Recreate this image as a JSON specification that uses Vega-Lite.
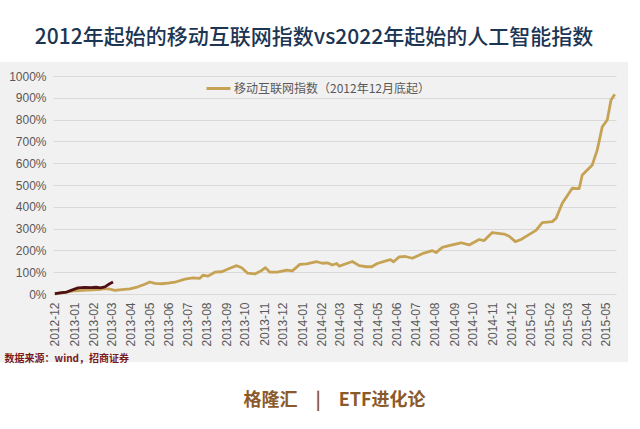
{
  "$schema": "https://vega.github.io/schema/vega-lite/v6.json",
  "autosize": {"type": "none"},
  "width": 628,
  "height": 300,
  "padding": {"left": 0, "top": 62, "right": 12, "bottom": 67},
  "background": "#ffffff",
  "view": {"fill": "#f2f1f1", "stroke": null},
  "title": {
    "text": "2012年起始的移动互联网指数vs2022年起始的人工智能指数",
    "font": "Noto Sans CJK SC",
    "fontSize": 21,
    "fontWeight": 500,
    "color": "#1c3553",
    "anchor": "middle",
    "frame": "group",
    "offset": 14
  },
  "data": {"values": [
    {"s": "移动互联网指数（2012年12月底起）", "d": "2012-12-01", "v": 0},
    {"s": "移动互联网指数（2012年12月底起）", "d": "2012-12-17", "v": 8},
    {"s": "移动互联网指数（2012年12月底起）", "d": "2013-01-02", "v": 15},
    {"s": "移动互联网指数（2012年12月底起）", "d": "2013-01-21", "v": 18},
    {"s": "移动互联网指数（2012年12月底起）", "d": "2013-02-08", "v": 20},
    {"s": "移动互联网指数（2012年12月底起）", "d": "2013-02-19", "v": 25},
    {"s": "移动互联网指数（2012年12月底起）", "d": "2013-02-27", "v": 22},
    {"s": "移动互联网指数（2012年12月底起）", "d": "2013-03-07", "v": 17},
    {"s": "移动互联网指数（2012年12月底起）", "d": "2013-03-18", "v": 20},
    {"s": "移动互联网指数（2012年12月底起）", "d": "2013-03-31", "v": 24},
    {"s": "移动互联网指数（2012年12月底起）", "d": "2013-04-13", "v": 33},
    {"s": "移动互联网指数（2012年12月底起）", "d": "2013-04-24", "v": 45},
    {"s": "移动互联网指数（2012年12月底起）", "d": "2013-05-02", "v": 55},
    {"s": "移动互联网指数（2012年12月底起）", "d": "2013-05-10", "v": 49},
    {"s": "移动互联网指数（2012年12月底起）", "d": "2013-05-21", "v": 47},
    {"s": "移动互联网指数（2012年12月底起）", "d": "2013-05-31", "v": 50},
    {"s": "移动互联网指数（2012年12月底起）", "d": "2013-06-11", "v": 54},
    {"s": "移动互联网指数（2012年12月底起）", "d": "2013-06-27", "v": 68},
    {"s": "移动互联网指数（2012年12月底起）", "d": "2013-07-10", "v": 74},
    {"s": "移动互联网指数（2012年12月底起）", "d": "2013-07-21", "v": 72},
    {"s": "移动互联网指数（2012年12月底起）", "d": "2013-07-26", "v": 86},
    {"s": "移动互联网指数（2012年12月底起）", "d": "2013-08-03", "v": 82},
    {"s": "移动互联网指数（2012年12月底起）", "d": "2013-08-14", "v": 100},
    {"s": "移动互联网指数（2012年12月底起）", "d": "2013-08-25", "v": 102},
    {"s": "移动互联网指数（2012年12月底起）", "d": "2013-09-07", "v": 118},
    {"s": "移动互联网指数（2012年12月底起）", "d": "2013-09-18", "v": 130},
    {"s": "移动互联网指数（2012年12月底起）", "d": "2013-09-26", "v": 120},
    {"s": "移动互联网指数（2012年12月底起）", "d": "2013-10-05", "v": 96},
    {"s": "移动互联网指数（2012年12月底起）", "d": "2013-10-17", "v": 92},
    {"s": "移动互联网指数（2012年12月底起）", "d": "2013-10-28", "v": 108},
    {"s": "移动互联网指数（2012年12月底起）", "d": "2013-11-03", "v": 121},
    {"s": "移动互联网指数（2012年12月底起）", "d": "2013-11-10", "v": 100},
    {"s": "移动互联网指数（2012年12月底起）", "d": "2013-11-22", "v": 100},
    {"s": "移动互联网指数（2012年12月底起）", "d": "2013-12-07", "v": 110},
    {"s": "移动互联网指数（2012年12月底起）", "d": "2013-12-16", "v": 106},
    {"s": "移动互联网指数（2012年12月底起）", "d": "2013-12-28", "v": 136},
    {"s": "移动互联网指数（2012年12月底起）", "d": "2014-01-08", "v": 138},
    {"s": "移动互联网指数（2012年12月底起）", "d": "2014-01-24", "v": 148},
    {"s": "移动互联网指数（2012年12月底起）", "d": "2014-02-02", "v": 141},
    {"s": "移动互联网指数（2012年12月底起）", "d": "2014-02-10", "v": 143},
    {"s": "移动互联网指数（2012年12月底起）", "d": "2014-02-18", "v": 133},
    {"s": "移动互联网指数（2012年12月底起）", "d": "2014-02-25", "v": 140},
    {"s": "移动互联网指数（2012年12月底起）", "d": "2014-03-01", "v": 128},
    {"s": "移动互联网指数（2012年12月底起）", "d": "2014-03-13", "v": 140},
    {"s": "移动互联网指数（2012年12月底起）", "d": "2014-03-22", "v": 149},
    {"s": "移动互联网指数（2012年12月底起）", "d": "2014-04-02", "v": 130},
    {"s": "移动互联网指数（2012年12月底起）", "d": "2014-04-14", "v": 125},
    {"s": "移动互联网指数（2012年12月底起）", "d": "2014-04-22", "v": 125},
    {"s": "移动互联网指数（2012年12月底起）", "d": "2014-05-01", "v": 140},
    {"s": "移动互联网指数（2012年12月底起）", "d": "2014-05-16", "v": 153},
    {"s": "移动互联网指数（2012年12月底起）", "d": "2014-05-22", "v": 158},
    {"s": "移动互联网指数（2012年12月底起）", "d": "2014-05-27", "v": 148},
    {"s": "移动互联网指数（2012年12月底起）", "d": "2014-06-05", "v": 170},
    {"s": "移动互联网指数（2012年12月底起）", "d": "2014-06-15", "v": 172},
    {"s": "移动互联网指数（2012年12月底起）", "d": "2014-06-26", "v": 164},
    {"s": "移动互联网指数（2012年12月底起）", "d": "2014-07-12", "v": 185},
    {"s": "移动互联网指数（2012年12月底起）", "d": "2014-07-28", "v": 199},
    {"s": "移动互联网指数（2012年12月底起）", "d": "2014-08-03", "v": 190},
    {"s": "移动互联网指数（2012年12月底起）", "d": "2014-08-13", "v": 214},
    {"s": "移动互联网指数（2012年12月底起）", "d": "2014-08-27", "v": 224},
    {"s": "移动互联网指数（2012年12月底起）", "d": "2014-09-12", "v": 235},
    {"s": "移动互联网指数（2012年12月底起）", "d": "2014-09-25", "v": 225},
    {"s": "移动互联网指数（2012年12月底起）", "d": "2014-10-11", "v": 250},
    {"s": "移动互联网指数（2012年12月底起）", "d": "2014-10-19", "v": 245},
    {"s": "移动互联网指数（2012年12月底起）", "d": "2014-11-01", "v": 282},
    {"s": "移动互联网指数（2012年12月底起）", "d": "2014-11-20", "v": 275},
    {"s": "移动互联网指数（2012年12月底起）", "d": "2014-11-28", "v": 265},
    {"s": "移动互联网指数（2012年12月底起）", "d": "2014-12-08", "v": 240},
    {"s": "移动互联网指数（2012年12月底起）", "d": "2014-12-17", "v": 250},
    {"s": "移动互联网指数（2012年12月底起）", "d": "2014-12-27", "v": 268},
    {"s": "移动互联网指数（2012年12月底起）", "d": "2015-01-10", "v": 292},
    {"s": "移动互联网指数（2012年12月底起）", "d": "2015-01-20", "v": 327},
    {"s": "移动互联网指数（2012年12月底起）", "d": "2015-02-05", "v": 332},
    {"s": "移动互联网指数（2012年12月底起）", "d": "2015-02-11", "v": 347},
    {"s": "移动互联网指数（2012年12月底起）", "d": "2015-02-21", "v": 416},
    {"s": "移动互联网指数（2012年12月底起）", "d": "2015-03-09", "v": 485},
    {"s": "移动互联网指数（2012年12月底起）", "d": "2015-03-20", "v": 483},
    {"s": "移动互联网指数（2012年12月底起）", "d": "2015-03-25", "v": 546},
    {"s": "移动互联网指数（2012年12月底起）", "d": "2015-04-10", "v": 592},
    {"s": "移动互联网指数（2012年12月底起）", "d": "2015-04-18", "v": 661},
    {"s": "移动互联网指数（2012年12月底起）", "d": "2015-04-26", "v": 767},
    {"s": "移动互联网指数（2012年12月底起）", "d": "2015-05-04", "v": 798},
    {"s": "移动互联网指数（2012年12月底起）", "d": "2015-05-10", "v": 890},
    {"s": "移动互联网指数（2012年12月底起）", "d": "2015-05-16", "v": 916},
    {"s": "人工智能指数（2022年起）", "d": "2012-12-01", "v": 2},
    {"s": "人工智能指数（2022年起）", "d": "2012-12-12", "v": 6},
    {"s": "人工智能指数（2022年起）", "d": "2012-12-20", "v": 9},
    {"s": "人工智能指数（2022年起）", "d": "2012-12-28", "v": 18},
    {"s": "人工智能指数（2022年起）", "d": "2013-01-07", "v": 28},
    {"s": "人工智能指数（2022年起）", "d": "2013-01-18", "v": 30},
    {"s": "人工智能指数（2022年起）", "d": "2013-01-28", "v": 29},
    {"s": "人工智能指数（2022年起）", "d": "2013-02-05", "v": 31},
    {"s": "人工智能指数（2022年起）", "d": "2013-02-12", "v": 28},
    {"s": "人工智能指数（2022年起）", "d": "2013-02-19", "v": 33},
    {"s": "人工智能指数（2022年起）", "d": "2013-02-26", "v": 46},
    {"s": "人工智能指数（2022年起）", "d": "2013-03-04", "v": 55}
  ]},
  "mark": {"type": "line", "strokeWidth": 2.8, "strokeJoin": "round", "clip": false},
  "encoding": {
    "x": {
      "field": "d",
      "type": "temporal",
      "scale": {"type": "utc", "domain": ["2012-11-28", "2015-05-18"], "range": [53, 616]},
      "axis": {
        "format": "%Y-%m",
        "tickCount": {"interval": "month", "step": 1},
        "labelAngle": -90,
        "labelFont": "Liberation Sans",
        "labelFontSize": 12,
        "labelColor": "#595959",
        "labelPadding": -60,
        "labelOverlap": false,
        "labelFlush": false,
        "labelBound": false,
        "domain": false,
        "ticks": false,
        "tickSize": 0,
        "grid": false,
        "title": "格隆汇\u2003|\u2003ETF进化论",
        "titleFont": "Noto Sans CJK SC",
        "titleFontSize": 18,
        "titleFontWeight": "bold",
        "titleColor": "#8b5a2b",
        "titleAlign": "center",
        "titleBaseline": "alphabetic",
        "titleX": 334,
        "titleY": 43
      }
    },
    "y": {
      "field": "v",
      "type": "quantitative",
      "scale": {"domain": [0, 1000], "range": [232, 14], "nice": false, "zero": true},
      "axis": {
        "values": [0, 100, 200, 300, 400, 500, 600, 700, 800, 900, 1000],
        "labelExpr": "datum.value + '%'",
        "labelFont": "Liberation Sans",
        "labelFontSize": 12,
        "labelColor": "#595959",
        "labelPadding": -46,
        "domain": false,
        "ticks": false,
        "tickSize": 0,
        "grid": true,
        "gridColor": "#d9d9d9",
        "gridWidth": 1,
        "title": "数据来源：wind，招商证券",
        "titleFont": "Noto Sans CJK SC",
        "titleFontSize": 10,
        "titleFontWeight": "bold",
        "titleColor": "#7a1a1a",
        "titleAngle": 0,
        "titleAlign": "left",
        "titleBaseline": "alphabetic",
        "titleX": 4,
        "titleY": 299,
        "titleLimit": 400
      }
    },
    "color": {
      "field": "s",
      "type": "nominal",
      "scale": {"domain": ["移动互联网指数（2012年12月底起）", "人工智能指数（2022年起）"], "range": ["#c6a354", "#4e1014"]},
      "legend": {
        "values": ["移动互联网指数（2012年12月底起）"],
        "orient": "none",
        "legendX": 205,
        "legendY": 13,
        "title": null,
        "padding": 0,
        "symbolType": "stroke",
        "symbolSize": 576,
        "symbolStrokeWidth": 3,
        "labelFont": "Noto Sans CJK SC",
        "labelFontSize": 12,
        "labelColor": "#595959",
        "labelOffset": 2,
        "labelLimit": 400
      }
    }
  }
}
